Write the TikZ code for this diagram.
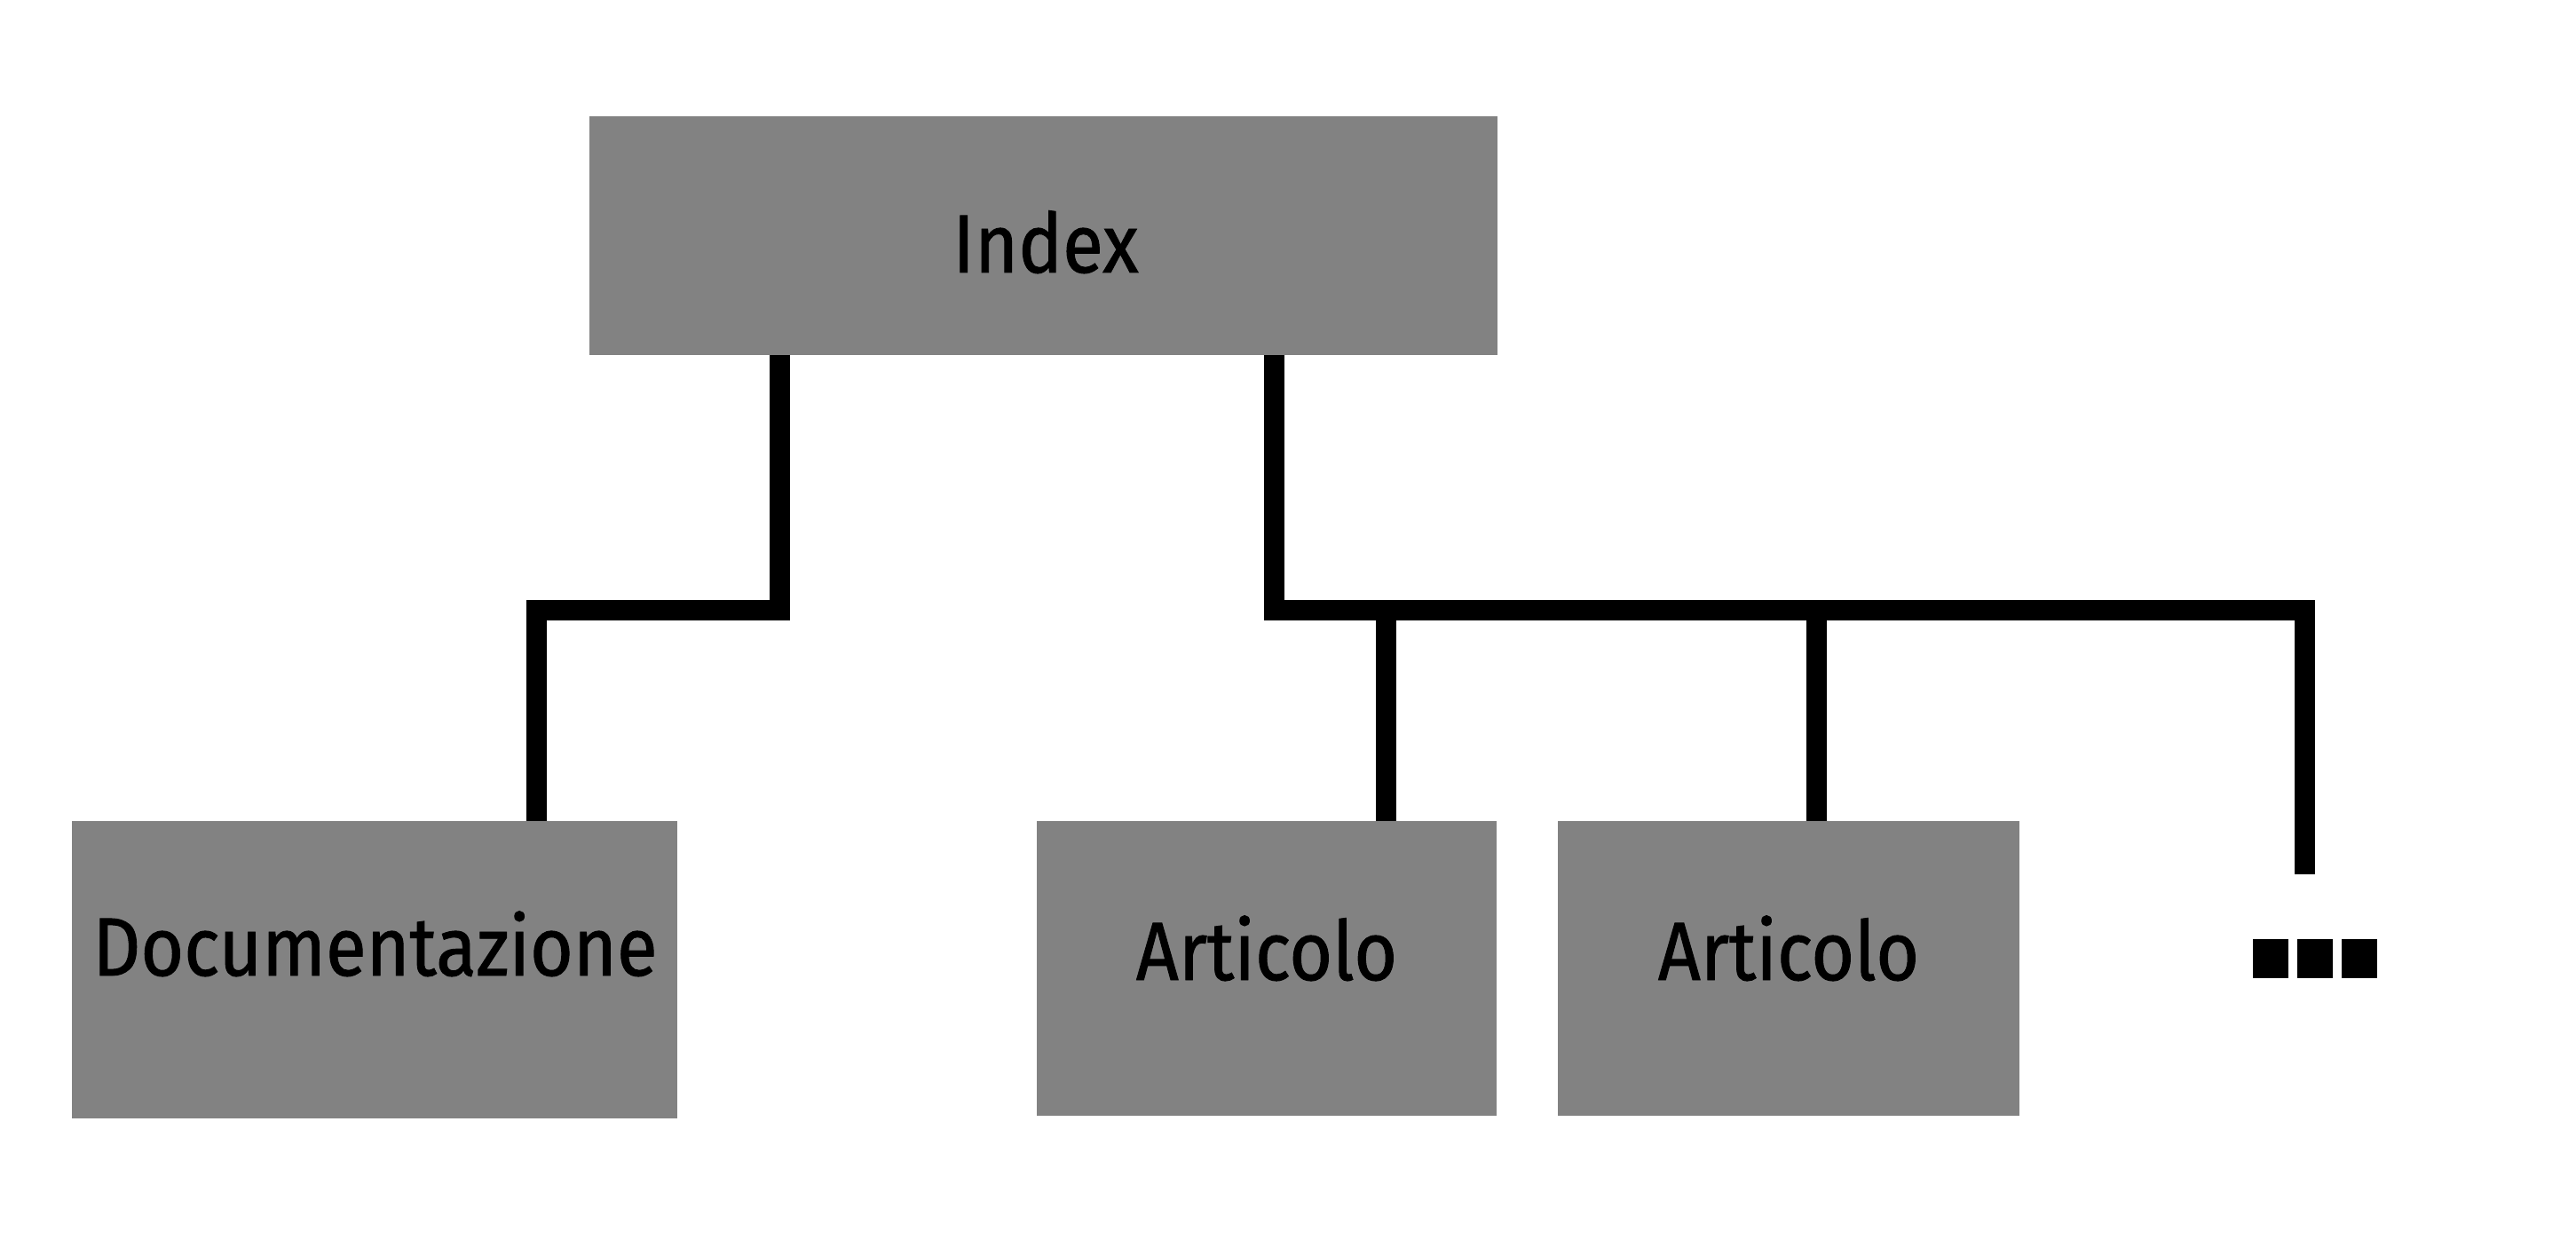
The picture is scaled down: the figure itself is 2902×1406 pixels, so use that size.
\documentclass[tikz,border=0pt]{standalone}
\usepackage{fontspec}
\setmainfont{Fira Sans}[FakeStretch=0.9,FakeBold=1]
\definecolor{boxgray}{RGB}{130,130,130}
\begin{document}
\begin{tikzpicture}[x=0.5pt,y=-0.5pt,
  gbox/.style={fill=boxgray,draw=none,inner sep=0pt,outer sep=0pt},
  lbl/.style={anchor=base,inner sep=0pt,font=\fontsize{46.5}{56}\selectfont,text=black},
  conn/.style={line width=11.5pt,line join=miter,line cap=butt,draw=black}]
\useasboundingbox[fill=white] (0,0) rectangle (2902,1406);
% boxes
\node[gbox,minimum width=511.5pt,minimum height=134.5pt] (index) at (1175.5,265.5) {};
\node[gbox,minimum width=341pt,minimum height=167.5pt] (doc) at (422,1092.5) {};
\node[gbox,minimum width=259pt,minimum height=166pt] (art1) at (1427,1091) {};
\node[gbox,minimum width=260pt,minimum height=166pt] (art2) at (2015,1091) {};
% labels
\node[lbl] (indext) at (1178,307) {Index};
\node[lbl] (doct) at (422.5,1099) {Documentazione};
\node[lbl] (art1t) at (1427,1104) {Articolo};
\node[lbl] (art2t) at (2015,1104) {Articolo};
% ellipsis
\node[anchor=north west,inner sep=0pt] (more) at (2538,1058)
  {\rule{20pt}{22pt}\hspace{5pt}\rule{20pt}{22pt}\hspace{5pt}\rule{20pt}{22pt}};
% junction coordinates
\coordinate (jl) at (878.5,687.5);
\coordinate (jl2) at (604.5,687.5);
\coordinate (jr) at (1435.5,687.5);
\coordinate (jr2) at (2596.5,687.5);
\coordinate (ja1) at (1561,687.5);
\coordinate (ja2) at (2046,687.5);
\coordinate (endm) at (2596.5,985);
% connectors
\draw[conn] (index.south -| jl) -- (jl) -- (jl2) -- (doc.north -| jl2);
\draw[conn] (index.south -| jr) -- (jr) -- (jr2) -- (endm);
\draw[conn] (ja1) -- (art1.north -| ja1);
\draw[conn] (ja2) -- (art2.north -| ja2);
\end{tikzpicture}
\end{document}
